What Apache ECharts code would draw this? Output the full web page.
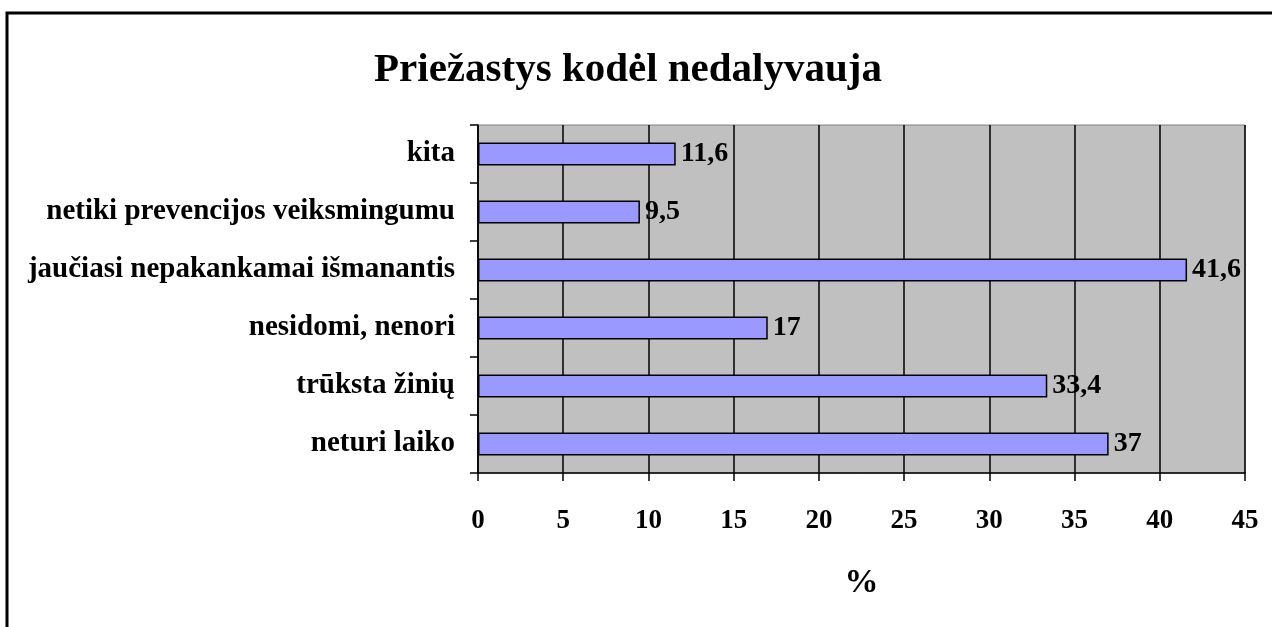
<!DOCTYPE html>
<html><head><meta charset="utf-8">
<script src="https://cdn.jsdelivr.net/npm/echarts@6/dist/echarts.min.js"></script>
<style>html,body{margin:0;padding:0;background:#fff}#c{width:1272px;height:627px}</style>
</head><body><div id="c"></div>
<script>
const titleText = 'Priežastys kodėl nedalyvauja';
const categories = ['neturi laiko','trūksta žinių','nesidomi, nenori','jaučiasi nepakankamai išmanantis','netiki prevencijos veiksmingumu','kita'];
const values = [37, 33.4, 17, 41.6, 9.5, 11.6];
const axisName = '%';
const font = '"Liberation Serif", "Times New Roman", serif';
const chart = echarts.init(document.getElementById('c'), null, {renderer:'canvas'});
chart.setOption({
  animation:false,
  backgroundColor:'#fff',
  title:{text:titleText,left:623,top:45,textAlign:'center',textStyle:{fontFamily:font,fontWeight:'bold',fontSize:41,color:'#000'}},
  graphic:[{type:'polyline',shape:{points:[[7,700],[7,13],[1300,13]]},style:{stroke:'#000',lineWidth:3,fill:null}}],
  grid:{left:478,right:27,top:125,bottom:154,show:true,backgroundColor:'#C0C0C0',borderColor:'#808080',borderWidth:1},
  xAxis:{type:'value',min:0,max:45,interval:5,
    name:axisName,nameLocation:'middle',nameGap:93,nameTextStyle:{fontFamily:font,fontWeight:'bold',fontSize:34,color:'#000'},
    axisLine:{show:true,lineStyle:{color:'#000',width:1.5}},
    axisTick:{show:true,length:8,lineStyle:{color:'#000',width:1.5}},
    axisLabel:{fontFamily:font,fontWeight:'bold',fontSize:27,color:'#000',margin:35},
    splitLine:{show:true,lineStyle:{color:'#000',width:1.5}}},
  yAxis:{type:'category',data:categories,
    axisLine:{show:true,lineStyle:{color:'#000',width:1.5}},
    axisTick:{show:true,length:8,alignWithLabel:false,lineStyle:{color:'#000',width:1.5}},
    axisLabel:{fontFamily:font,fontWeight:'bold',fontSize:29,color:'#000',margin:23},
    splitLine:{show:false}},
  series:[{type:'bar',data:values,barWidth:'40%',
    itemStyle:{color:'#9999FF',borderColor:'#000',borderWidth:1.5},
    label:{show:true,position:'right',distance:5,fontFamily:font,fontWeight:'bold',fontSize:28,color:'#000',
      formatter:p=>String(p.value).replace('.',',')}}]
});
</script></body></html>
